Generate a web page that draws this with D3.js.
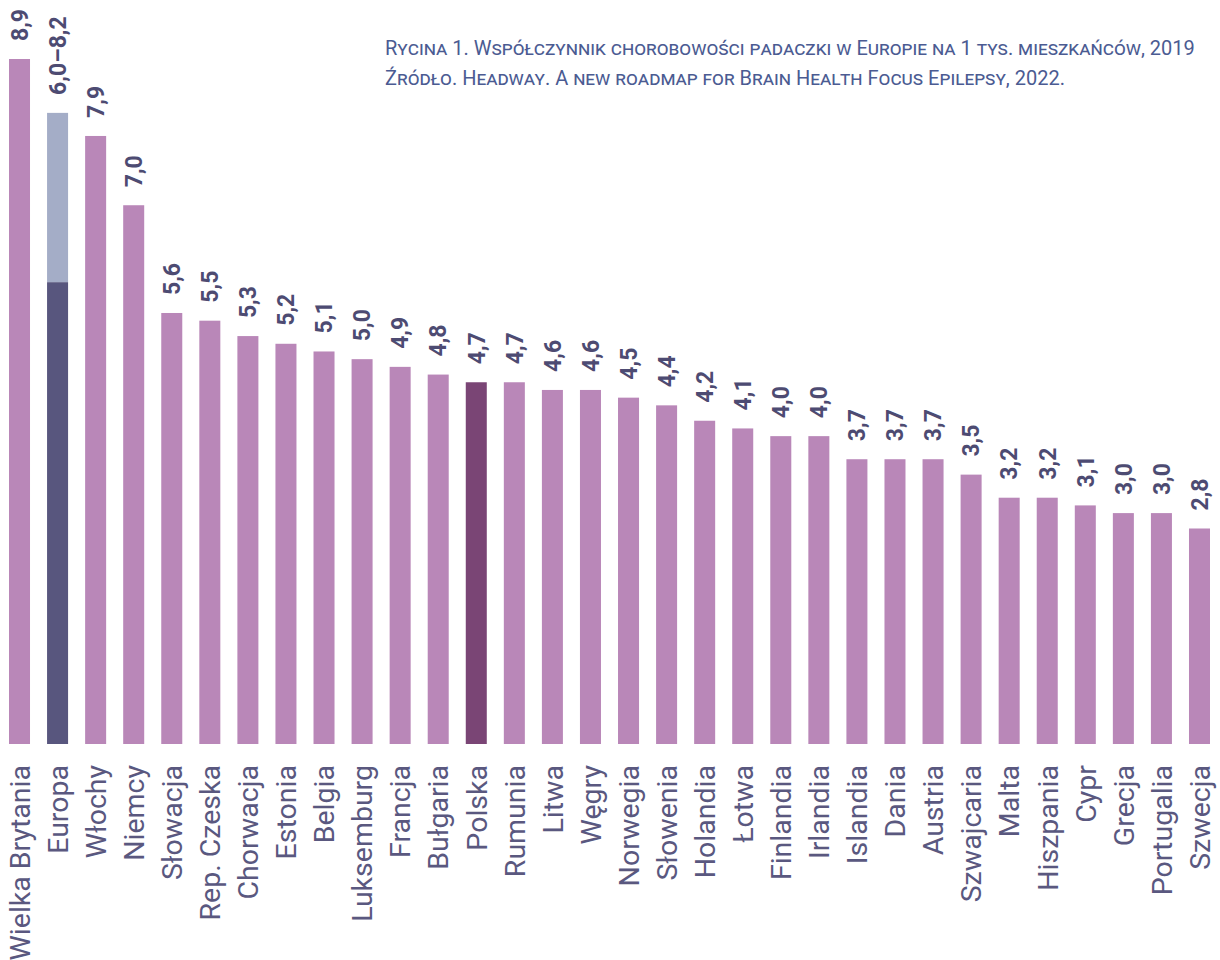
<!DOCTYPE html>
<html>
<head>
<meta charset="utf-8">
<script src="https://cdn.jsdelivr.net/npm/d3@7"></script>
<style>
  body { margin: 0; background: #fff; }
  svg { display: block; }
  .title { font-family: Roboto, sans-serif; font-variant: small-caps; fill: #4b5b92; font-size: 20px; }
  .cat { font-family: Roboto, sans-serif; fill: #5a587f; font-size: 28.5px; }
  .val { font-family: Roboto, sans-serif; font-weight: bold; fill: #4d4b72; font-size: 23px; }
</style>
</head>
<body>
<script>
// Data
const categories = ['Wielka Brytania', 'Europa', 'Włochy', 'Niemcy', 'Słowacja', 'Rep. Czeska',
  'Chorwacja', 'Estonia', 'Belgia', 'Luksemburg', 'Francja', 'Bułgaria', 'Polska', 'Rumunia',
  'Litwa', 'Węgry', 'Norwegia', 'Słowenia', 'Holandia', 'Łotwa', 'Finlandia', 'Irlandia',
  'Islandia', 'Dania', 'Austria', 'Szwajcaria', 'Malta', 'Hiszpania', 'Cypr', 'Grecja',
  'Portugalia', 'Szwecja'];
const values = [8.9, 6.0, 7.9, 7.0, 5.6, 5.5, 5.3, 5.2, 5.1, 5.0, 4.9, 4.8, 4.7, 4.7,
  4.6, 4.6, 4.5, 4.4, 4.2, 4.1, 4.0, 4.0, 3.7, 3.7, 3.7, 3.5, 3.2, 3.2, 3.1, 3.0, 3.0, 2.8];
// upper end of range (only Europa has one)
const rangeHigh = [null, 8.2, null, null, null, null, null, null, null, null, null, null, null, null,
  null, null, null, null, null, null, null, null, null, null, null, null, null, null, null, null, null, null];
const titleLines = [
  'Rycina 1. Współczynnik chorobowości padaczki w Europie na 1 tys. mieszkańców, 2019',
  'Źródło. Headway. A new roadmap for Brain Health Focus Epilepsy, 2022.',
];

const rows = categories.map((name, i) => ({name, value: values[i], high: rangeHigh[i]}));

const width = 1220;
const height = 960;
const baseline = 744;

const fmt = (v) => v.toFixed(1).replace('.', ',');

const colorFor = (d) => {
  if (d.name === 'Europa') return '#58567e';
  if (d.name === 'Polska') return '#7a4575';
  return '#b987b8';
};

const x = d3.scaleBand()
  .domain(categories)
  .range([9, 1210])
  .paddingInner(0.448)
  .paddingOuter(0);

const y = d3.scaleLinear()
  .domain([0, 8.9])
  .range([baseline, 59]);

const svg = d3.select('body').append('svg')
  .attr('width', width)
  .attr('height', height);

// Light part of range bar (Europa)
svg.append('g').selectAll('rect')
  .data(rows.filter((d) => d.high !== null))
  .join('rect')
  .attr('x', (d) => x(d.name))
  .attr('width', x.bandwidth())
  .attr('y', (d) => y(d.high))
  .attr('height', (d) => y(d.value) - y(d.high))
  .attr('fill', '#a4adc7');

// Bars
svg.append('g').selectAll('rect')
  .data(rows)
  .join('rect')
  .attr('x', (d) => x(d.name))
  .attr('width', x.bandwidth())
  .attr('y', (d) => y(d.value))
  .attr('height', (d) => baseline - y(d.value))
  .attr('fill', colorFor);

// Value labels
svg.append('g').selectAll('text')
  .data(rows)
  .join('text')
  .attr('class', 'val')
  .attr('transform', (d) => {
    const top = y(d.high !== null ? d.high : d.value);
    return `translate(${x(d.name) + x.bandwidth() / 2}, ${top - 18}) rotate(-90)`;
  })
  .attr('dy', '0.36em')
  .text((d) => (d.high !== null ? `${fmt(d.value)}–${fmt(d.high)}` : fmt(d.value)));

// Category labels
svg.append('g').selectAll('text')
  .data(rows)
  .join('text')
  .attr('class', 'cat')
  .attr('text-anchor', 'end')
  .attr('transform', (d) => `translate(${x(d.name) + x.bandwidth() / 2}, ${baseline + 21}) rotate(-90)`)
  .attr('dy', '0.36em')
  .text((d) => d.name);

// Title
svg.append('g').selectAll('text')
  .data(titleLines)
  .join('text')
  .attr('class', 'title')
  .attr('x', 385)
  .attr('y', (d, i) => 55 + i * 30)
  .text((d) => d);
</script>
</body>
</html>
